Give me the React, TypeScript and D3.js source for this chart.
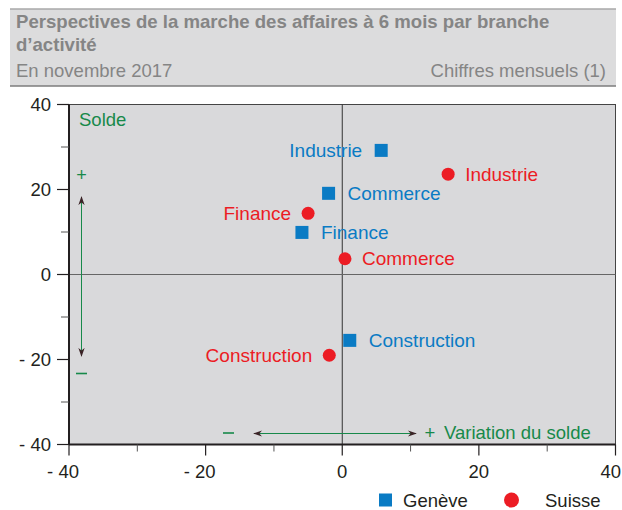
import * as d3 from "d3";
import React from "react";

// data
const branches = ["Industrie", "Commerce", "Finance", "Construction"];
const geneveX = [5.7, -2.0, -5.9, 1.1];
const geneveY = [29.2, 19.1, 9.9, -15.5];
const suisseX = [15.5, 0.4, -5.0, -1.9];
const suisseY = [23.6, 3.7, 14.4, -19.0];
const majorTicks = [-40, -20, 0, 20, 40];
const minorTicks = [-30, -10, 10, 30];
const seriesNames = ["Genève", "Suisse"];

// which side each label goes
const geneveSide = { Industrie: -1, Commerce: 1, Finance: 1, Construction: 1 };
const suisseSide = { Industrie: 1, Commerce: 1, Finance: -1, Construction: -1 };

const W = 622, H = 510;
const margin = { top: 104.5, right: 6.5, bottom: 65.5, left: 69 };
const FONT = "'Liberation Sans', Arial, Helvetica, sans-serif";
const BLUE = "#0a7bc4";
const RED = "#ec1c24";
const GREEN = "#17894a";
const PANEL = "#d9d9db";

const fmt = (v: number) => (v < 0 ? "- " + Math.abs(v) : String(v));

export default function App() {
  const x = d3.scaleLinear().domain([-40, 40]).range([margin.left, W - margin.right]);
  const y = d3.scaleLinear().domain([-40, 40]).range([H - margin.bottom, margin.top]);
  const x0 = x(-40), x1 = x(40), y0 = y(-40), y1 = y(40);

  const geneve = branches.map((b, i) => ({ b, x: geneveX[i], y: geneveY[i] }));
  const suisse = branches.map((b, i) => ({ b, x: suisseX[i], y: suisseY[i] }));

  return (
    <svg width={W} height={H} style={{ position: "absolute", left: 0, top: 0, fontFamily: FONT }}>
      <defs>
        <marker id="ah" viewBox="0 0 10 10" refX="9" refY="5" markerWidth="9" markerHeight="9"
          markerUnits="userSpaceOnUse" orient="auto-start-reverse">
          <path d="M0,1.5 L10,5 L0,8.5 L3,5 Z" fill="#3b2326" />
        </marker>
      </defs>

      {/* header */}
      <rect x={10} y={9} width={606} height={77} fill="#dcdcdd" />
      <line x1={10} x2={616} y1={9} y2={9} stroke="#a9a9a9" strokeWidth={1.5} />
      <line x1={10} x2={616} y1={86} y2={86} stroke="#7d7d7d" strokeWidth={1.5} />
      <text x={16} y={28} fontSize={18.6} fontWeight="bold" fill="#858585">
        Perspectives de la marche des affaires à 6 mois par branche
      </text>
      <text x={16} y={51} fontSize={18.6} fontWeight="bold" fill="#858585">d’activité</text>
      <text x={16} y={77} fontSize={18.5} fill="#858585">En novembre 2017</text>
      <text x={606} y={77} fontSize={18.5} fill="#858585" textAnchor="end">Chiffres mensuels (1)</text>

      {/* panel */}
      <rect x={x0} y={y1} width={x1 - x0} height={y0 - y1} fill={PANEL} stroke="#444" strokeWidth={1} />
      <line x1={x(0)} x2={x(0)} y1={y1} y2={y0} stroke="#333" strokeWidth={1} />
      <line x1={x0} x2={x1} y1={y(0)} y2={y(0)} stroke="#666" strokeWidth={1} />
      <line x1={x0} x2={x0} y1={y1} y2={y0} stroke="#231f20" strokeWidth={2} />
      <line x1={x0} x2={x1} y1={y0} y2={y0} stroke="#231f20" strokeWidth={2} />

      {/* y axis */}
      {majorTicks.map(t => (
        <g key={"ym" + t}>
          <line x1={x0 - 12} x2={x0} y1={y(t)} y2={y(t)} stroke="#231f20" strokeWidth={1.2} />
          <text x={x0 - 18} y={y(t)} dy="0.36em" textAnchor="end" fontSize={18.5} fill="#231f20">{fmt(t)}</text>
        </g>
      ))}
      {minorTicks.map(t => (
        <line key={"yn" + t} x1={x0 - 8} x2={x0} y1={y(t)} y2={y(t)} stroke="#555" strokeWidth={1} />
      ))}

      {/* x axis */}
      {majorTicks.map(t => (
        <g key={"xm" + t}>
          <line x1={x(t)} x2={x(t)} y1={y0} y2={y0 + 11} stroke="#231f20" strokeWidth={1.2} />
          <text x={t < 0 ? x(t) + 10 : t === 40 ? W - 1 : x(t)} y={y0 + 33}
            textAnchor={t < 0 || t === 40 ? "end" : "middle"}
            fontSize={18.5} fill="#231f20">{fmt(t)}</text>
        </g>
      ))}
      {minorTicks.map(t => (
        <line key={"xn" + t} x1={x(t)} x2={x(t)} y1={y0} y2={y0 + 7} stroke="#555" strokeWidth={1} />
      ))}

      {/* annotations */}
      <text x={79} y={126} fontSize={18.5} fill={GREEN}>Solde</text>
      <text x={81.5} y={175} dy="0.35em" textAnchor="middle" fontSize={18} fill={GREEN}>+</text>
      <line x1={81.5} x2={81.5} y1={197} y2={356} stroke={GREEN} strokeWidth={1}
        markerStart="url(#ah)" markerEnd="url(#ah)" />
      <line x1={76} x2={87} y1={373.5} y2={373.5} stroke={GREEN} strokeWidth={1.6} />
      <line x1={223} x2={234} y1={433} y2={433} stroke={GREEN} strokeWidth={1.6} />
      <line x1={254} x2={416} y1={433.5} y2={433.5} stroke={GREEN} strokeWidth={1}
        markerStart="url(#ah)" markerEnd="url(#ah)" />
      <text x={430} y={433} dy="0.35em" textAnchor="middle" fontSize={18.5} fill={GREEN}>+</text>
      <text x={444} y={433} dy="0.35em" fontSize={18.5} fill={GREEN}>Variation du solde</text>

      {/* Genève */}
      {geneve.map(d => {
        const s = (geneveSide as any)[d.b];
        return (
          <g key={"g" + d.b}>
            <rect x={x(d.x) - 6.5} y={y(d.y) - 6.5} width={13} height={13} fill={BLUE} />
            <text x={x(d.x) + s * 19} y={y(d.y)} dy="0.35em" textAnchor={s < 0 ? "end" : "start"}
              fontSize={19} fill={BLUE}>{d.b}</text>
          </g>
        );
      })}

      {/* Suisse */}
      {suisse.map(d => {
        const s = (suisseSide as any)[d.b];
        return (
          <g key={"s" + d.b}>
            <circle cx={x(d.x)} cy={y(d.y)} r={6.5} fill={RED} />
            <text x={x(d.x) + s * 17} y={y(d.y)} dy="0.35em" textAnchor={s < 0 ? "end" : "start"}
              fontSize={19} fill={RED}>{d.b}</text>
          </g>
        );
      })}

      {/* legend */}
      <rect x={379} y={493.5} width={13} height={13} fill={BLUE} />
      <text x={403} y={500} dy="0.36em" fontSize={18.5} fill="#231f20">{seriesNames[0]}</text>
      <circle cx={511.5} cy={500} r={7.5} fill={RED} />
      <text x={545} y={500} dy="0.36em" fontSize={18.5} fill="#231f20">{seriesNames[1]}</text>
    </svg>
  );
}
